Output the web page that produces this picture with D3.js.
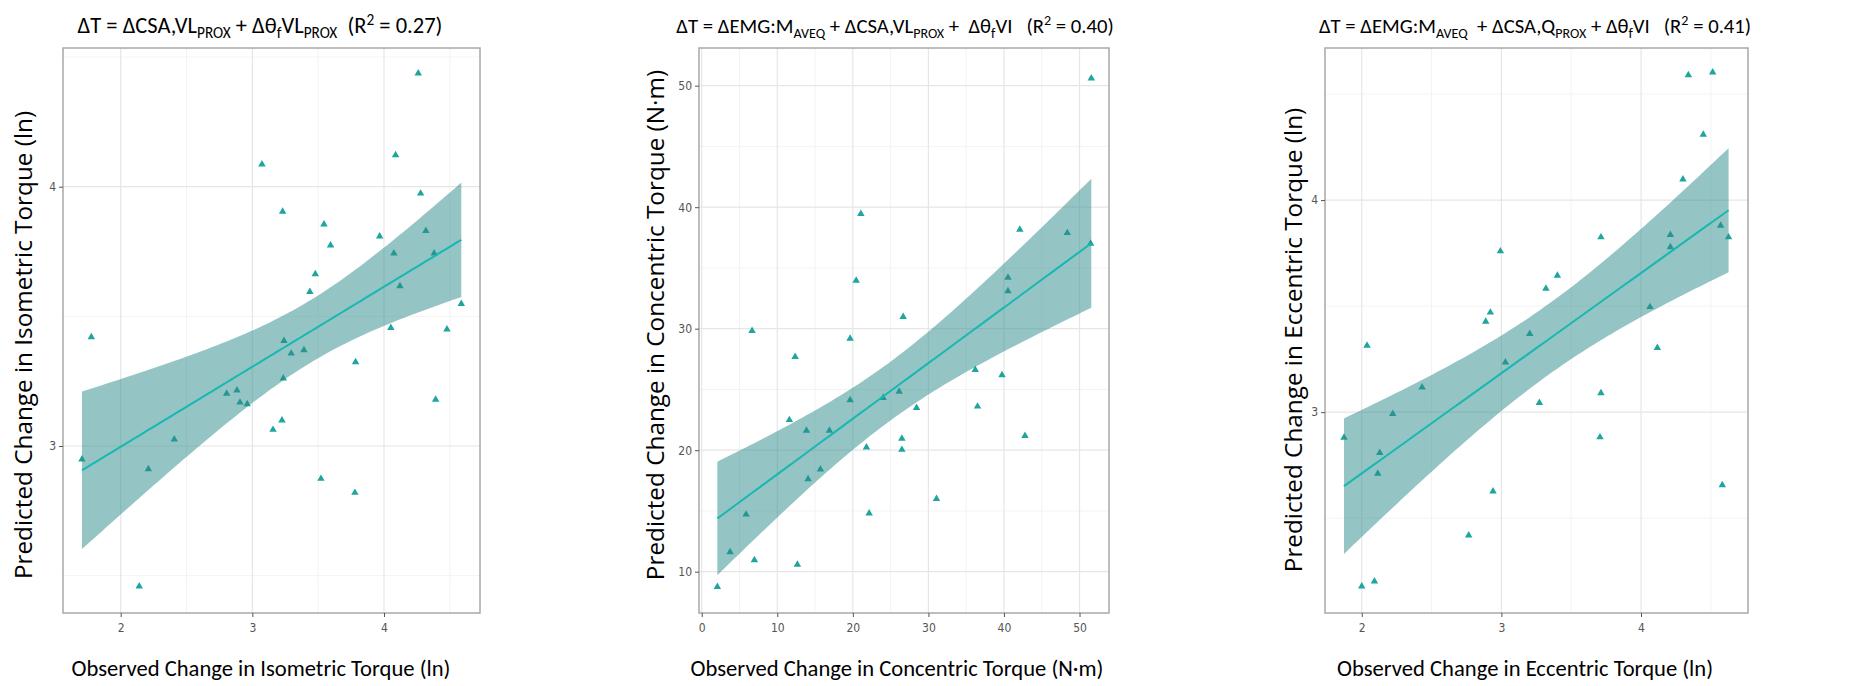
<!DOCTYPE html>
<html>
<head>
<meta charset="utf-8">
<script src="https://cdnjs.cloudflare.com/ajax/libs/d3/7.8.5/d3.min.js"></script>
<style>
  body { margin: 0; background: #fff; }
  svg text { white-space: pre; }
  .tick-label { font-family: "DejaVu Sans Condensed", "Liberation Sans Narrow", sans-serif; font-size: 12px; fill: #555; }
  .title { font-family: Carlito, Lato, "Open Sans", sans-serif; fill: #000; }
  .xtitle { font-family: Carlito, Lato, "Open Sans", sans-serif; font-size: 22.6px; fill: #000; }
  .ytitle { font-family: "Open Sans", "DejaVu Sans", sans-serif; font-size: 24.3px; fill: #000; }
</style>
</head>
<body>
<div id="vis"></div>
<script>

// isometric (ln)
var isoObserved = [4.26, 3.073, 4.088, 4.278, 3.23, 3.544, 3.967, 4.318, 3.594, 4.075, 4.381, 3.478, 3.437, 4.121, 4.587, 1.777, 4.052, 4.478,
  3.24, 3.295, 3.392, 3.784, 3.235, 2.805, 2.883, 2.906, 2.961, 4.392, 3.225, 3.157, 2.407, 1.706, 2.21, 3.521, 3.779, 2.141];
var isoPredicted = [4.437, 4.086, 4.122, 3.974, 3.904, 3.855, 3.809, 3.83, 3.774, 3.743, 3.743, 3.663, 3.595, 3.617, 3.548, 3.42, 3.456, 3.45,
  3.406, 3.357, 3.37, 3.324, 3.261, 3.202, 3.215, 3.168, 3.162, 3.179, 3.099, 3.063, 3.026, 2.949, 2.911, 2.874, 2.82, 2.459];

// concentric (N·m)
var conObserved = [51.56, 21.06, 42.1, 48.38, 51.47, 20.44, 40.53, 40.53, 26.66, 6.66, 19.64, 12.36, 36.2, 39.74, 19.64, 24.01, 26.13, 28.43,
  36.5, 11.6, 13.86, 16.9, 26.49, 42.78, 21.8, 26.49, 15.71, 14.08, 31.07, 5.87, 22.16, 3.75, 6.97, 12.66, 2.07];
var conPredicted = [50.6, 39.45, 38.15, 37.88, 37.0, 33.96, 34.2, 33.1, 30.97, 29.83, 29.18, 27.68, 26.62, 26.18, 24.12, 24.31, 24.83, 23.49,
  23.6, 22.49, 21.61, 21.61, 20.96, 21.18, 20.23, 20.04, 18.43, 17.62, 15.99, 14.71, 14.8, 11.61, 10.96, 10.58, 8.76];

// eccentric (ln)
var eccObserved = [4.339, 4.513, 4.446, 4.3, 3.713, 4.21, 4.21, 4.57, 4.627, 2.993, 3.401, 3.319, 2.921, 2.888, 4.064, 3.203, 2.038, 4.117,
  3.029, 2.432, 3.713, 3.272, 2.222, 1.873, 3.706, 2.129, 2.115, 4.582, 2.94, 2.766, 2.091, 2.0];
var eccPredicted = [4.589, 4.602, 4.309, 4.098, 3.825, 3.836, 3.778, 3.88, 3.825, 3.759, 3.644, 3.583, 3.47, 3.427, 3.496, 3.369, 3.314, 3.303,
  3.235, 3.117, 3.09, 3.044, 2.992, 2.88, 2.882, 2.808, 2.71, 2.656, 2.627, 2.419, 2.202, 2.179];

var isoXTicks = [2, 3, 4], isoYTicks = [3, 4];
var conXTicks = [0, 10, 20, 30, 40, 50], conYTicks = [10, 20, 30, 40, 50];
var eccXTicks = [2, 3, 4], eccYTicks = [3, 4];

// title pieces: [text, 'sub' | 'sup' | '']
var isoTitle = [['ΔT = ΔCSA,VL', ''], ['PROX', 'sub'], [' + Δθ', ''], ['f', 'sub'], ['VL', ''], ['PROX', 'sub'], ['  (R', ''], ['2', 'sup'], [' = 0.27)', '']];
var conTitle = [['ΔT = ΔEMG:M', ''], ['AVEQ', 'sub'], [' + ΔCSA,VL', ''], ['PROX', 'sub'], [' +  Δθ', ''], ['f', 'sub'], ['VI   (R', ''], ['2', 'sup'], [' = 0.40)', '']];
var eccTitle = [['ΔT = ΔEMG:M', ''], ['AVEQ', 'sub'], ['  + ΔCSA,Q', ''], ['PROX', 'sub'], [' + Δθ', ''], ['f', 'sub'], ['VI   (R', ''], ['2', 'sup'], [' = 0.41)', '']];

var width = 1850;
var height = 686;

var pointColor = '#1ea59d';
var lineColor = '#17b8b3';
var bandColor = '#2c8a8a';

var svg = d3.select('#vis').append('svg')
  .attr('width', width)
  .attr('height', height);

// least squares fit + 95% band, like geom_smooth(method = 'lm')
function lmBand(xs, ys) {
  var n = xs.length;
  var mx = d3.mean(xs), my = d3.mean(ys);
  var sxx = 0, sxy = 0;
  for (var i = 0; i < n; i++) {
    sxx += (xs[i] - mx) * (xs[i] - mx);
    sxy += (xs[i] - mx) * (ys[i] - my);
  }
  var b = sxy / sxx, a = my - b * mx;
  var sse = 0;
  for (var j = 0; j < n; j++) sse += Math.pow(ys[j] - a - b * xs[j], 2);
  var s = Math.sqrt(sse / (n - 2));
  var df = n - 2, z = 1.959964;
  var t = z + (z * z * z + z) / (4 * df);
  var x0 = d3.min(xs), x1 = d3.max(xs);
  return d3.range(80).map(function (k) {
    var x = x0 + (x1 - x0) * k / 79;
    var fit = a + b * x;
    var se = s * Math.sqrt(1 / n + (x - mx) * (x - mx) / sxx);
    return { x: x, fit: fit, lo: fit - t * se, hi: fit + t * se };
  });
}

function panel(p) {
  var g = svg.append('g');

  var x = d3.scaleLinear().domain(p.xDomain).range([p.left, p.right]);
  var y = d3.scaleLinear().domain(p.yDomain).range([p.bottom, p.top]);

  var minorX = p.xTicks.map(function (d, i) { return d + p.xStep / 2; })
    .concat([p.xTicks[0] - p.xStep / 2])
    .filter(function (d) { return d > p.xDomain[0] && d < p.xDomain[1]; });
  var minorY = p.yTicks.map(function (d) { return d + p.yStep / 2; })
    .concat([p.yTicks[0] - p.yStep / 2])
    .filter(function (d) { return d > p.yDomain[0] && d < p.yDomain[1]; });

  g.selectAll('.minx').data(minorX).enter().append('line')
    .attr('x1', x).attr('x2', x).attr('y1', p.top).attr('y2', p.bottom)
    .attr('stroke', '#f3f3f3').attr('stroke-width', 1);
  g.selectAll('.miny').data(minorY).enter().append('line')
    .attr('x1', p.left).attr('x2', p.right).attr('y1', y).attr('y2', y)
    .attr('stroke', '#f3f3f3').attr('stroke-width', 1);
  g.selectAll('.majx').data(p.xTicks).enter().append('line')
    .attr('x1', x).attr('x2', x).attr('y1', p.top).attr('y2', p.bottom)
    .attr('stroke', '#e6e6e6').attr('stroke-width', 1.2);
  g.selectAll('.majy').data(p.yTicks).enter().append('line')
    .attr('x1', p.left).attr('x2', p.right).attr('y1', y).attr('y2', y)
    .attr('stroke', '#e6e6e6').attr('stroke-width', 1.2);

  var pts = p.xs.map(function (d, i) { return [d, p.ys[i]]; });

  g.selectAll('.pt').data(pts).enter().append('path')
    .attr('d', d3.symbol().type(d3.symbolTriangle).size(24))
    .attr('transform', function (d) { return 'translate(' + x(d[0]) + ',' + y(d[1]) + ')'; })
    .attr('fill', pointColor);

  var band = lmBand(p.xs, p.ys);

  g.append('path')
    .datum(band)
    .attr('d', d3.area()
      .x(function (d) { return x(d.x); })
      .y0(function (d) { return y(d.lo); })
      .y1(function (d) { return y(d.hi); }))
    .attr('fill', bandColor)
    .attr('fill-opacity', 0.5);

  g.append('path')
    .datum(band)
    .attr('d', d3.line()
      .x(function (d) { return x(d.x); })
      .y(function (d) { return y(d.fit); }))
    .attr('fill', 'none')
    .attr('stroke', lineColor)
    .attr('stroke-width', 2);

  g.append('rect')
    .attr('x', p.left).attr('y', p.top)
    .attr('width', p.right - p.left).attr('height', p.bottom - p.top)
    .attr('fill', 'none').attr('stroke', '#a8a8a8').attr('stroke-width', 1.5);

  var xAxis = d3.axisBottom(x).tickValues(p.xTicks).tickSize(4).tickPadding(6).tickFormat(d3.format('d'));
  var yAxis = d3.axisLeft(y).tickValues(p.yTicks).tickSize(4).tickPadding(3).tickFormat(d3.format('d'));

  var xg = g.append('g').attr('transform', 'translate(0,' + p.bottom + ')').call(xAxis);
  var yg = g.append('g').attr('transform', 'translate(' + p.left + ',0)').call(yAxis);
  [xg, yg].forEach(function (ax) {
    ax.select('.domain').remove();
    ax.selectAll('.tick line').attr('stroke', '#555');
    ax.selectAll('.tick text').attr('class', 'tick-label').attr('fill', null);
  });

  // title with sub/superscripts
  var t = g.append('text').attr('class', 'title')
    .attr('x', p.titleX).attr('y', 33)
    .attr('font-size', p.titleSize)
    .attr('text-anchor', 'middle');
  var shift = 0;
  p.title.forEach(function (piece) {
    var want = piece[1] === 'sub' ? 5 : piece[1] === 'sup' ? -8 : 0;
    t.append('tspan')
      .attr('dy', want - shift)
      .attr('font-size', piece[1] ? p.titleSize * 0.68 : null)
      .text(piece[0]);
    shift = want;
  });

  g.append('text').attr('class', 'xtitle')
    .attr('x', p.xTitleX).attr('y', 676)
    .attr('text-anchor', 'middle')
    .text(p.xLabel);

  g.append('text').attr('class', 'ytitle')
    .attr('transform', 'translate(' + p.yTitleX + ',' + p.yTitleY + ') rotate(-90)')
    .attr('text-anchor', 'middle')
    .text(p.yLabel);
}

panel({
  xs: isoObserved, ys: isoPredicted,
  xTicks: isoXTicks, yTicks: isoYTicks, xStep: 1, yStep: 1,
  xDomain: [1.562, 4.729], yDomain: [2.356, 4.535],
  left: 63, right: 480, top: 48, bottom: 613,
  title: isoTitle, titleX: 260, titleSize: 22.5,
  xLabel: 'Observed Change in Isometric Torque (ln)', xTitleX: 261,
  yLabel: 'Predicted Change in Isometric Torque (ln)', yTitleX: 32, yTitleY: 345
});

panel({
  xs: conObserved, ys: conPredicted,
  xTicks: conXTicks, yTicks: conYTicks, xStep: 10, yStep: 10,
  xDomain: [-0.36, 53.9], yDomain: [6.6, 53.1],
  left: 699, right: 1109, top: 48, bottom: 613,
  title: conTitle, titleX: 895, titleSize: 20.7,
  xLabel: 'Observed Change in Concentric Torque (N·m)', xTitleX: 897,
  yLabel: 'Predicted Change in Concentric Torque (N·m)', yTitleX: 664, yTitleY: 325
});

panel({
  xs: eccObserved, ys: eccPredicted,
  xTicks: eccXTicks, yTicks: eccYTicks, xStep: 1, yStep: 1,
  xDomain: [1.737, 4.766], yDomain: [2.053, 4.717],
  left: 1325, right: 1748, top: 48, bottom: 613,
  title: eccTitle, titleX: 1535, titleSize: 20.7,
  xLabel: 'Observed Change in Eccentric Torque (ln)', xTitleX: 1525,
  yLabel: 'Predicted Change in Eccentric Torque (ln)', yTitleX: 1302, yTitleY: 340
});

</script>
</body>
</html>
